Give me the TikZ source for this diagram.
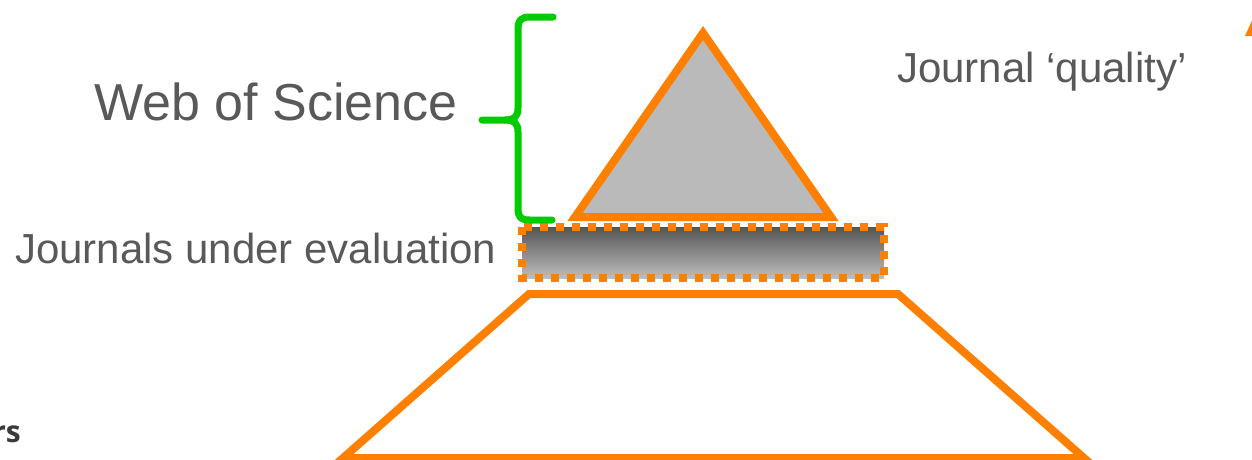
\documentclass[tikz,border=0pt]{standalone}
\usepackage{fontspec}
\setmainfont{Liberation Sans}
\newfontfamily\osans{Open Sans}
\definecolor{tor}{HTML}{FF8000}
\definecolor{tgreen}{HTML}{00CC00}
\definecolor{ttext}{HTML}{595959}
\definecolor{tfill}{HTML}{BABABA}
\definecolor{gtop}{HTML}{555555}
\definecolor{gbot}{HTML}{BDBDBD}
\definecolor{tdark}{HTML}{3A3A3A}
\tikzset{
  orline/.style={draw=tor, line width=8pt, line join=miter},
  lbl/.style={text=ttext, inner sep=0pt},
}
\begin{document}
\begin{tikzpicture}[x=1pt,y=-1pt]
\useasboundingbox (0,0) rectangle (1252,459);
\clip (0,0) rectangle (1252,459);
% pyramid top
\draw[orline, fill=tfill] (703,33) -- (831,217) -- (575,217) -- cycle;
% journals under evaluation band
\shade[top color=gtop, bottom color=gbot] (522,227) rectangle (884,278);
\draw[draw=tor, line width=8pt, dash pattern=on 8pt off 8pt] (522,227) rectangle (884,278);
% trapezoid
\draw[orline, fill=white] (343,458) -- (529,294) -- (898,294) -- (1084,458) -- cycle;
% brace
\draw[tgreen, line width=7pt, line cap=round, line join=round]
  (553,17) -- (530,17) .. controls (521,17) and (518,20) .. (518,30)
  -- (518,108) .. controls (518,117) and (514,120) .. (505,120) -- (482,120);
\draw[tgreen, line width=7pt, line cap=round, line join=round]
  (505,120) .. controls (514,120) and (518,123) .. (518,132)
  -- (518,208) .. controls (518,218) and (521,220) .. (530,220) -- (552,220);
% arrow tip at top right
\fill[tor] (1245,36) -- (1255,14) -- (1265,36) -- cycle;
% texts
\node[lbl, anchor=base west, font=\fontsize{52}{60}\selectfont] (wos) at (94,120) {Web of Science};
\node[lbl, anchor=base west, font=\fontsize{42}{50}\selectfont] (jue) at (15,263) {Journals under evaluation};
\node[lbl, anchor=base west, font=\fontsize{42}{50}\selectfont] (jq) at (897,82) {Journal ‘quality’};
\node[text=tdark, inner sep=0pt, anchor=base east, font=\osans\bfseries\fontsize{30}{36}\selectfont] (rs) at (21,442) {rs};
\end{tikzpicture}
\end{document}
